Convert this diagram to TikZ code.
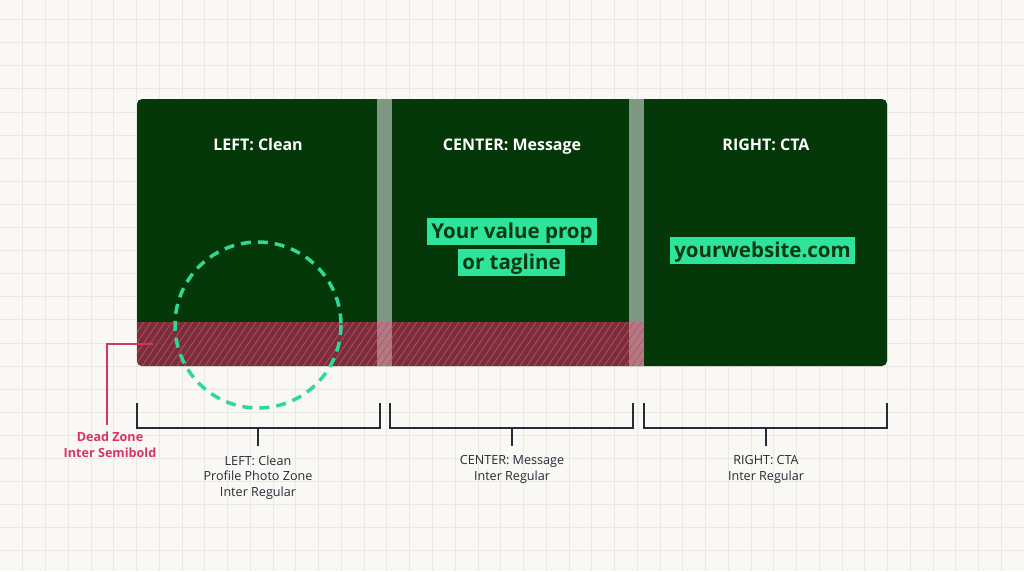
\documentclass[tikz,border=0pt]{standalone}
\usepackage{fontspec}
\setmainfont{Open Sans}
\definecolor{bg}{HTML}{F9F8F4}
\definecolor{gridc}{HTML}{EAE8E3}
\definecolor{panel}{HTML}{053808}
\definecolor{gutter}{HTML}{7E9884}
\definecolor{dz}{HTML}{7A2D3A}
\definecolor{dzg}{HTML}{B07B85}
\definecolor{hatch}{HTML}{BC5066}
\definecolor{hi}{HTML}{2EE39A}
\definecolor{hitext}{HTML}{0B3A12}
\definecolor{circ}{HTML}{2FD896}
\definecolor{ink}{HTML}{272B36}
\definecolor{crimson}{HTML}{D6336C}
\tikzset{
  title/.style={text=white, font=\fontsize{16}{19}\selectfont\bfseries, inner sep=0pt, text height=11.5pt, text depth=0pt},
  hibox/.style={fill=hi, text=hitext, font=\fontsize{20.5}{25}\selectfont\bfseries, inner xsep=4pt, inner ysep=0pt, minimum height=27pt, text height=17pt, text depth=3pt},
  brk/.style={draw=ink, line width=1.8pt},
  lbl/.style={text=ink, font=\fontsize{12.6}{15.5}\selectfont, align=center, inner sep=0pt},
  dzlbl/.style={text=crimson, font=\fontsize{12.6}{16}\selectfont\bfseries, align=center, inner sep=0pt},
  lead/.style={draw=crimson, line width=1.4pt},
  circdash/.style={draw=circ, line width=3.5pt, dash pattern=on 10pt off 7pt}
}
\begin{document}
\begin{tikzpicture}[x=1pt,y=-1pt]
\useasboundingbox (0,0) rectangle (1024,571);
\fill[bg] (0,0) rectangle (1024,571);
\foreach \k in {0,...,45} \draw[gridc, line width=0.8pt] ({22.7+22.76*\k},0) -- ({22.7+22.76*\k},571);
\foreach \k in {0,...,24} \draw[gridc, line width=0.8pt] (0,{19.5+23.1*\k}) -- (1024,{19.5+23.1*\k});
% panel
\fill[panel, rounded corners=5pt] (137,99) rectangle (887,366);
\fill[gutter] (377,99) rectangle (392,366);
\fill[gutter] (629,99) rectangle (644,366);
% dead zone
\begin{scope}
  \clip[rounded corners=5pt] (137,99) rectangle (887,366);
  \fill[dz] (137,322) rectangle (644,366);
  \fill[dzg] (377,322) rectangle (392,366);
  \fill[dzg] (629,322) rectangle (644,366);
  \clip (137,322) rectangle (644,366);
  \foreach \x in {100,107,...,660} \draw[hatch, line width=0.7pt] (\x,366) -- (\x+30,322);
\end{scope}
% circle
\draw[circdash] (258,325) circle (83);
% titles
\node[title] (t1) at (258,145) {LEFT: Clean};
\node[title] (t2) at (512,145) {CENTER: Message};
\node[title] (t3) at (766,145) {RIGHT: CTA};
% highlights
\node[hibox] (v1) at (512,231.5) {Your value prop};
\node[hibox] (v2) at (511.5,262.5) {or tagline};
\node[hibox] (w1) at (762.5,250.5) {yourwebsite.com};
% brackets
\draw[brk] (137,403) -- (137,428) -- (380,428) -- (380,403);
\draw[brk] (390,403) -- (390,428) -- (633,428) -- (633,403);
\draw[brk] (644,403) -- (644,428) -- (887,428) -- (887,403);
\coordinate (b1) at (258,428);
\coordinate (b2) at (512,428);
\coordinate (b3) at (766,428);
\node[lbl, anchor=north] (l1) at (258,455.5) {LEFT: Clean\\Profile Photo Zone\\Inter Regular};
\node[lbl, anchor=north] (l2) at (512,455.5) {CENTER: Message\\Inter Regular};
\node[lbl, anchor=north] (l3) at (766,455.5) {RIGHT: CTA\\Inter Regular};
\draw[brk, shorten >=9.5pt] (b1) -- (l1.north);
\draw[brk, shorten >=9.5pt] (b2) -- (l2.north);
\draw[brk, shorten >=9.5pt] (b3) -- (l3.north);
% dead zone label
\node[dzlbl, anchor=north] (dl) at (110,432) {Dead Zone\\Inter Semibold};
\coordinate (dp) at (153,344);
\draw[lead, shorten >=7pt] (dp) -| ([xshift=-3pt]dl.north);
\end{tikzpicture}
\end{document}
